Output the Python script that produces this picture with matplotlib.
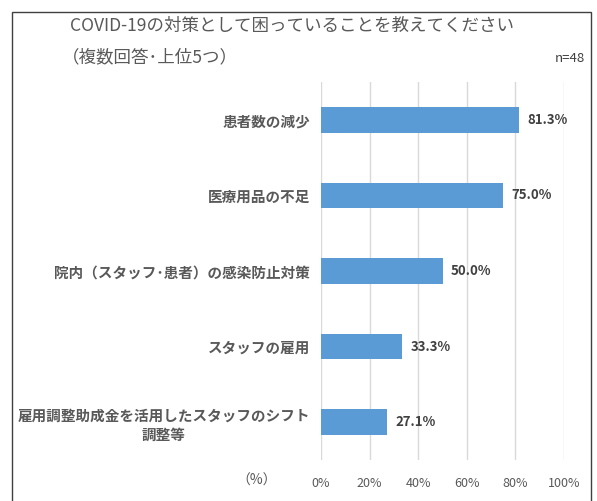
import matplotlib.pyplot as plt
from matplotlib.patches import Rectangle

plt.rcParams['font.family'] = ['Noto Sans CJK JP', 'DejaVu Sans']

# data
categories = [
    '患者数の減少',
    '医療用品の不足',
    '院内（スタッフ･患者）の感染防止対策',
    'スタッフの雇用',
    '雇用調整助成金を活用したスタッフのシフト\n調整等',
]
values = [81.3, 75.0, 50.0, 33.3, 27.1]
xticks = [0, 20, 40, 60, 80, 100]
xtick_labels = ['0%', '20%', '40%', '60%', '80%', '100%']

title_line1 = 'COVID-19の対策として困っていることを教えてください'
title_line2 = '（複数回答･上位5つ）'
n_label = 'n=48'

BAR = '#5B9BD5'
GRAY = '#595959'
W, H = 597, 501

fig = plt.figure(figsize=(W / 100, H / 100), dpi=100)

# outer frame (bottom edge runs off the picture)
fig.patches.append(Rectangle((12 / W, -0.05), (591 - 12) / W, 1.05 - 12 / H,
                             transform=fig.transFigure, fill=False,
                             edgecolor='#404040', linewidth=1.0))

ax = fig.add_axes([321 / W, 1 - 460 / H, (564 - 321) / W, (460 - 82) / H])
ypos = list(range(len(categories)))
ax.barh(ypos, values, height=0.34, color=BAR, zorder=3)
ax.set_ylim(len(categories) - 0.5, -0.5)
ax.set_xlim(0, 100)

ax.set_xticks(xticks)
ax.set_xticklabels(xtick_labels, color=GRAY, fontsize=9)
ax.set_yticks(ypos)
ax.set_yticklabels(categories, fontsize=10.5, fontweight='bold', color=GRAY,
                   multialignment='center')
ax.tick_params(axis='both', length=0)
ax.tick_params(axis='y', pad=8)
ax.tick_params(axis='x', pad=12)
ax.grid(axis='x', color='#D9D9D9', linewidth=1, zorder=0)
for s in ax.spines.values():
    s.set_visible(False)

for y, v in zip(ypos, values):
    ax.annotate(f'{v:.1f}%', (v, y), xytext=(6, 0), textcoords='offset points',
                va='center', ha='left', fontsize=9.5, fontweight='bold',
                color='#404040')

fig.text(70 / W, 1 - 26 / H, title_line1, fontsize=12.6, color=GRAY, va='center')
fig.text(62 / W, 1 - 57 / H, title_line2, fontsize=12.6, color=GRAY, va='center')
fig.text(585 / W, 1 - 59 / H, n_label, fontsize=9.5, color='#404040',
         va='center', ha='right')
fig.text(257 / W, 1 - 481 / H, '（%）', fontsize=10, color=GRAY,
         va='center', ha='center')

fig.savefig('out.png', dpi=100)
